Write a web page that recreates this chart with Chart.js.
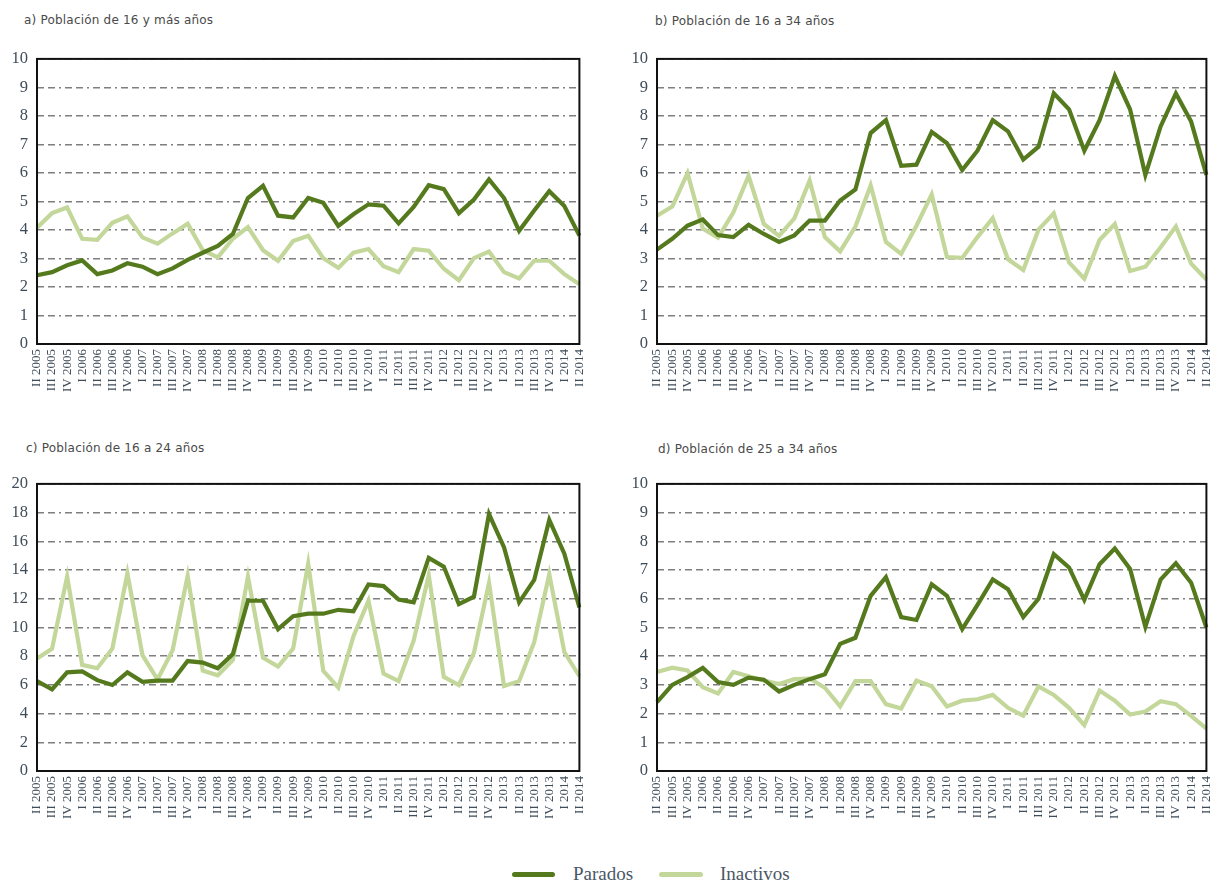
<!DOCTYPE html>
<html>
<head>
<meta charset="utf-8">
<script src="https://cdn.jsdelivr.net/npm/chart.js@4.4.1/dist/chart.umd.min.js"></script>
<style>
  html, body { margin: 0; padding: 0; background: #ffffff; }
  body { width: 1227px; height: 881px; position: relative; overflow: hidden; }
  canvas { position: absolute; }
  .title { position: absolute; font-family: "DejaVu Sans", sans-serif; font-size: 12px; color: #4a4a4a; white-space: nowrap; line-height: 14px; letter-spacing: 0.2px; }
  .legend-line { position: absolute; height: 5px; border-radius: 3px; }
  .legend-text { position: absolute; font-family: "Liberation Serif", serif; font-size: 19px; color: #4a5766; line-height: 22px; white-space: nowrap; }
</style>
</head>
<body>
<div class="title" style="left:24px; top:13px;">a) Población de 16 y más años</div>
<div class="title" style="left:655px; top:14px;">b) Población de 16 a 34 años</div>
<div class="title" style="left:26px; top:441px;">c) Población de 16 a 24 años</div>
<div class="title" style="left:658px; top:442px;">d) Población de 25 a 34 años</div>

<canvas id="cA" width="600" height="380" style="left:0px; top:40px;"></canvas>
<canvas id="cB" width="617" height="380" style="left:610px; top:40px;"></canvas>
<canvas id="cC" width="600" height="385" style="left:0px; top:465px;"></canvas>
<canvas id="cD" width="617" height="385" style="left:610px; top:465px;"></canvas>

<div class="legend-line" style="left:512px; top:872px; width:43px; background:#557a1e;"></div>
<div class="legend-text" style="left:573px; top:863px;">Parados</div>
<div class="legend-line" style="left:659px; top:872px; width:44px; background:#c4d79b;"></div>
<div class="legend-text" style="left:720px; top:863px;">Inactivos</div>

<script>
// ---------- DATA ----------
const categories = [
  "II 2005","III 2005","IV 2005",
  "I 2006","II 2006","III 2006","IV 2006",
  "I 2007","II 2007","III 2007","IV 2007",
  "I 2008","II 2008","III 2008","IV 2008",
  "I 2009","II 2009","III 2009","IV 2009",
  "I 2010","II 2010","III 2010","IV 2010",
  "I 2011","II 2011","III 2011","IV 2011",
  "I 2012","II 2012","III 2012","IV 2012",
  "I 2013","II 2013","III 2013","IV 2013",
  "I 2014","II 2014"
];

const seriesNames = ["Parados", "Inactivos"];

// a) Población de 16 y más años
const paradosA = [2.41,2.52,2.76,2.93,2.45,2.58,2.83,2.71,2.45,2.65,2.95,3.20,3.44,3.86,5.12,5.55,4.50,4.44,5.12,4.95,4.14,4.55,4.90,4.85,4.23,4.81,5.57,5.43,4.59,5.07,5.77,5.12,3.97,4.68,5.36,4.84,3.80];
const inactivosA = [4.08,4.59,4.79,3.69,3.65,4.25,4.48,3.74,3.52,3.88,4.22,3.29,3.04,3.69,4.10,3.29,2.92,3.61,3.80,3.01,2.67,3.20,3.33,2.73,2.52,3.33,3.27,2.64,2.24,3.01,3.24,2.52,2.30,2.92,2.92,2.45,2.10];

// b) Población de 16 a 34 años
const paradosB = [3.31,3.69,4.15,4.37,3.82,3.75,4.18,3.86,3.58,3.81,4.33,4.33,5.03,5.42,7.40,7.85,6.25,6.29,7.44,7.04,6.10,6.78,7.85,7.46,6.47,6.92,8.79,8.23,6.78,7.85,9.40,8.23,5.93,7.63,8.79,7.80,5.93];
const inactivosB = [4.50,4.82,5.99,4.05,3.73,4.61,5.90,4.21,3.79,4.41,5.73,3.75,3.25,4.12,5.56,3.58,3.16,4.15,5.25,3.05,3.02,3.75,4.41,2.97,2.60,4.01,4.58,2.86,2.29,3.65,4.21,2.56,2.71,3.39,4.12,2.82,2.26];

// c) Población de 16 a 24 años
const paradosC = [6.26,5.69,6.87,6.94,6.33,5.99,6.87,6.21,6.30,6.30,7.66,7.55,7.16,8.14,11.86,11.86,9.88,10.78,10.96,10.96,11.23,11.12,12.99,12.88,11.95,11.75,14.85,14.24,11.62,12.14,17.90,15.57,11.75,13.31,17.49,15.14,11.39];
const inactivosC = [7.84,8.52,13.54,7.39,7.16,8.52,13.76,8.07,6.37,8.41,13.60,7.00,6.67,7.73,13.54,7.89,7.28,8.52,14.44,6.98,5.81,9.38,11.86,6.78,6.26,9.08,13.65,6.55,5.99,8.23,13.11,5.92,6.26,8.97,13.72,8.29,6.60];

// d) Población de 25 a 34 años
const paradosD = [2.40,3.00,3.27,3.59,3.10,3.00,3.25,3.18,2.77,3.00,3.20,3.37,4.43,4.64,6.10,6.75,5.36,5.26,6.50,6.10,4.94,5.79,6.67,6.33,5.36,6.00,7.55,7.09,5.96,7.20,7.75,7.04,5.02,6.67,7.24,6.56,5.00];
const inactivosD = [3.45,3.60,3.50,2.92,2.70,3.45,3.30,3.15,3.03,3.20,3.22,2.90,2.25,3.13,3.13,2.33,2.18,3.15,2.95,2.25,2.45,2.50,2.65,2.20,1.93,2.95,2.65,2.20,1.60,2.80,2.45,1.97,2.07,2.43,2.33,1.92,1.48];

// y-axis tick settings
const yMaxSmall = 10, yStepSmall = 1;
const yMaxLarge = 20, yStepLarge = 2;

// ---------- STYLE ----------
const darkGreen = "#557a1e";
const lightGreen = "#c4d79b";
const tickColor = "#3f4c59";
const serifFamily = '"Liberation Serif", "Times New Roman", serif';

Chart.defaults.font.family = serifFamily;
Chart.defaults.font.size = 13;
Chart.defaults.color = tickColor;

const boxPlugin = {
  id: "plotBox",
  afterDraw(chart) {
    const a = chart.chartArea, ctx = chart.ctx;
    ctx.save();
    ctx.strokeStyle = "#111111";
    ctx.lineWidth = 2;
    ctx.setLineDash([]);
    ctx.strokeRect(a.left, a.top, a.right - a.left, a.bottom - a.top);
    ctx.restore();
  }
};

function makeChart(id, parados, inactivos, yMax, yStep, yWidth, pad, xHeight) {
  const ctx = document.getElementById(id).getContext("2d");
  return new Chart(ctx, {
    type: "line",
    data: {
      labels: categories,
      datasets: [
        { label: seriesNames[0], data: parados, borderColor: darkGreen, backgroundColor: darkGreen, borderWidth: 4.2, pointRadius: 0, tension: 0, order: 1 },
        { label: seriesNames[1], data: inactivos, borderColor: lightGreen, backgroundColor: lightGreen, borderWidth: 4.2, pointRadius: 0, tension: 0, order: 2 }
      ]
    },
    options: {
      responsive: false,
      animation: false,
      devicePixelRatio: 1,
      layout: { padding: pad },
      plugins: { legend: { display: false }, tooltip: { enabled: false }, title: { display: false } },
      elements: { line: { borderCapStyle: "butt", borderJoinStyle: "miter" } },
      scales: {
        x: {
          offset: false,
          grid: { display: false, drawTicks: false },
          border: { display: false },
          ticks: {
            autoSkip: false, maxRotation: 90, minRotation: 90, padding: 5,
            color: tickColor, font: { family: serifFamily, size: 13 }
          },
          afterFit: s => { s.height = xHeight; }
        },
        y: {
          min: 0, max: yMax,
          grid: { color: "#7f7f7f", lineWidth: 1.4, drawTicks: false, drawOnChartArea: true },
          border: { display: false, dash: [7, 4, 7, 4, 2, 4] },
          ticks: {
            stepSize: yStep, padding: 9,
            color: tickColor, font: { family: serifFamily, size: 16.5 }
          },
          afterFit: s => { s.width = yWidth; }
        }
      }
    },
    plugins: [boxPlugin]
  });
}

makeChart("cA", paradosA, inactivosA, yMaxSmall, yStepSmall, 37, { top: 8, right: 5, left: 0, bottom: 0 }, 76);
makeChart("cB", paradosB, inactivosB, yMaxSmall, yStepSmall, 47, { top: 9, right: 6, left: 0, bottom: 0 }, 76);
makeChart("cC", paradosC, inactivosC, yMaxLarge, yStepLarge, 37, { top: 10, right: 5, left: 0, bottom: 0 }, 79);
makeChart("cD", paradosD, inactivosD, yMaxSmall, yStepSmall, 47, { top: 12, right: 6, left: 0, bottom: 0 }, 79);
</script>
</body>
</html>
